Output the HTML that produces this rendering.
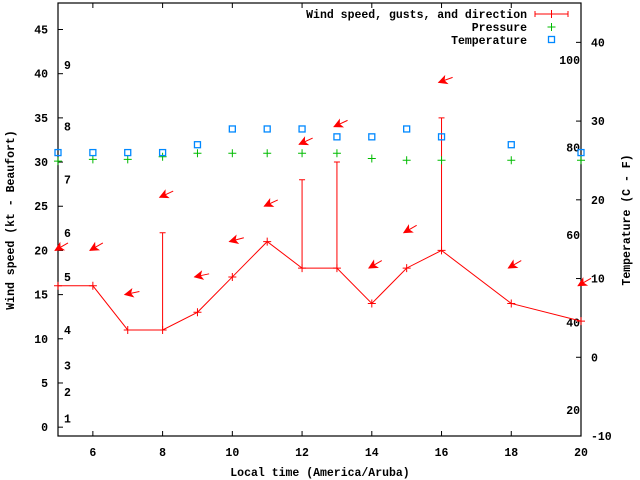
<!DOCTYPE html>
<html><head><meta charset="utf-8"><style>
html,body{margin:0;padding:0;background:#fff}
svg{display:block}
text{font-family:"Liberation Mono",monospace;font-weight:bold;font-size:11.5px;fill:#000}
</style></head><body>
<svg id="chart" width="640" height="480" viewBox="0 0 640 480" xmlns="http://www.w3.org/2000/svg">
<g id="axes"></g>
<g id="marks"></g>
<text x="320" y="476" text-anchor="middle">Local time (America/Aruba)</text>
<text transform="translate(14,220) rotate(-90)" text-anchor="middle">Wind speed (kt - Beaufort)</text>
<text transform="translate(630,220) rotate(-90)" text-anchor="middle">Temperature (C - F)</text>
<g>
<text x="527" y="18" text-anchor="end">Wind speed, gusts, and direction</text>
<path d="M535 14H568M535 11V17M568 11V17M551.5 10V18" stroke="#f00" fill="none"/>
<text x="527" y="31" text-anchor="end">Pressure</text>
<path d="M547.5 27H555.5M551.5 23V31" stroke="#0b0" fill="none"/>
<text x="527" y="44" text-anchor="end">Temperature</text>
<rect x="548.5" y="36.5" width="6" height="6" stroke="#08f" fill="none" stroke-width="1.3"/>
</g>
</svg>
<script>
const hours=[5,6,7,8,9,10,11,12,13,14,15,16,18,20];
const windSpeed=[16,16,11,11,13,17,21,18,18,14,18,20,14,12];
const gustHours=[8,12,13,16];
const gustSpeed=[22,28,30,35];
const gustBase=[11,18,18,20];
const pressure=[30.1,30.3,30.3,30.6,31,31,31,31,31,30.4,30.2,30.2,30.2,30.2];
const tempC=[26,26,26,26,27,29,29,29,28,28,29,28,27,26];
const arrowLevel=[20,20,15,26,17,21,25,32,34,18,22,39,18,16];
const arrowAngle=[30,30,12,25,12,15,25,25,25,30,30,20,30,30];
const xTicks=[6,8,10,12,14,16,18,20];
const yTicks=[0,5,10,15,20,25,30,35,40,45];
const cTicks=[-10,0,10,20,30,40];
const fLabels=[20,40,60,80,100];
const beaufortLabels=["1","2","3","4","5","6","7","8","9"];
const beaufortSpeed=[1,4,7,11,17,22,28,34,41];

const L=58,R=581,T=3,B=436;
const X=h=>L+(h-5)/(20-5)*(R-L);
const Y=v=>B-(v+1)/(48+1)*(B-T);
const YC=c=>B-(c+10)/(45+10)*(B-T);
const YF=f=>YC((f-32)/1.8);
const NS="http://www.w3.org/2000/svg";
function mk(p,tag,a){const e=document.createElementNS(NS,tag);for(const k in a)e.setAttribute(k,a[k]);p.appendChild(e);return e;}
const ax=document.getElementById('axes'),mg=document.getElementById('marks');

let fr=mk(ax,'rect',{x:L,y:T,width:R-L,height:B-T,fill:'none',stroke:'#000','stroke-width':1.2});


xTicks.forEach(h=>{
 let t=mk(ax,'path',{d:`M${X(h)} ${B}v-5M${X(h)} ${T}v5`,stroke:'#000'});
 
 
 let l=mk(ax,'text',{x:X(h),y:B+20,'text-anchor':'middle'});l.textContent=h;
 
 
});
yTicks.forEach(v=>{
 let t=mk(ax,'path',{d:`M${L} ${Y(v)}h5`,stroke:'#000'});
 
 
 let l=mk(ax,'text',{x:L-10,y:Y(v)+4,'text-anchor':'end'});l.textContent=v;
 
 
});
cTicks.forEach(c=>{
 let t=mk(ax,'path',{d:`M${R} ${YC(c)}h-5`,stroke:'#000'});
 
 
 let l=mk(ax,'text',{x:R+10,y:YC(c)+4,'text-anchor':'start'});l.textContent=c;
 
 
});
fLabels.forEach(f=>{
 let l=mk(ax,'text',{x:R-1,y:YF(f)+4,'text-anchor':'end'});l.textContent=f;
 
 
});
beaufortLabels.forEach((b,i)=>{
 let l=mk(ax,'text',{x:64,y:Y(beaufortSpeed[i])+4});l.textContent=b;
 
 
});

let d='M'+X(hours[0])+' '+Y(windSpeed[0]);
hours.forEach((h,i)=>{if(i)d+=' L'+X(h)+' '+Y(windSpeed[i]);});
let ln=mk(mg,'path',{d:d,stroke:'#f00',fill:'none','stroke-width':1});


hours.forEach((h,i)=>{
 let x=X(h),y=Y(windSpeed[i]);
 let p=mk(mg,'path',{d:`M${x-4} ${y}h8M${x} ${y-4}v8`,stroke:'#f00'});
 
 
});
gustHours.forEach((h,i)=>{
 let x=X(h);
 let p=mk(mg,'path',{d:`M${x} ${Y(gustBase[i])}V${Y(gustSpeed[i])}M${x-3} ${Y(gustSpeed[i])}h6`,stroke:'#f00',fill:'none'});
 
 
});
hours.forEach((h,i)=>{
 let x=X(h)-3,y=Y(arrowLevel[i]),a=arrowAngle[i]*Math.PI/180;
 let dx=Math.cos(a),dy=-Math.sin(a);
 let tx=x+15*dx,ty=y+15*dy;
 let px=-dy,py=dx;
 let g=mk(mg,'g',{});
 
 
 mk(g,'path',{d:`M${x} ${y}L${tx} ${ty}`,stroke:'#f00','stroke-width':1});
 mk(g,'path',{d:`M${x} ${y}L${x+8*dx+4*px} ${y+8*dy+4*py}L${x+6*dx} ${y+6*dy}L${x+8*dx-4*px} ${y+8*dy-4*py}Z`,fill:'#f00',stroke:'#f00','stroke-width':0.8});
});
hours.forEach((h,i)=>{
 let x=X(h),y=Y(pressure[i]);
 let p=mk(mg,'path',{d:`M${x-4} ${y}h8M${x} ${y-4}v8`,stroke:'#0b0'});
 
 
});
hours.forEach((h,i)=>{
 let x=X(h),y=YC(tempC[i]);
 let r=mk(mg,'rect',{x:x-3,y:y-3,width:6,height:6,fill:'none',stroke:'#08f','stroke-width':1.3});
 
 
});
</script>
</body></html>
